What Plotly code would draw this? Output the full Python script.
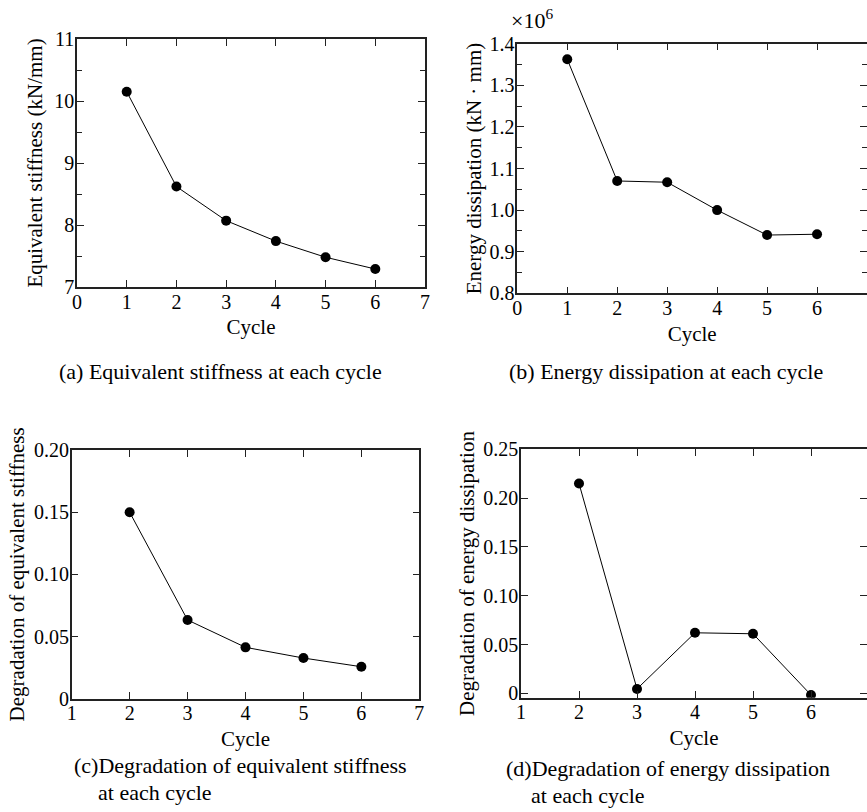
import plotly.graph_objects as go

W, H = 867, 812
FONT = "Liberation Serif"

# ---- data ----
cycles = [1, 2, 3, 4, 5, 6]
equivalent_stiffness = [10.15, 8.62, 8.07, 7.74, 7.48, 7.29]          # kN/mm
energy_dissipation_e6 = [1.3625, 1.070, 1.067, 1.000, 0.940, 0.942]    # x10^6 kN·mm
deg_cycles = [2, 3, 4, 5, 6]
degradation_stiffness = [0.150, 0.0633, 0.0413, 0.0327, 0.0257]
degradation_energy = [0.215, 0.0045, 0.062, 0.061, -0.0017]

xticks_ab = [0, 1, 2, 3, 4, 5, 6, 7]
xticks_cd = [1, 2, 3, 4, 5, 6, 7]
yticks_a = [7, 8, 9, 10, 11]
yticks_b = [0.8, 0.9, 1.0, 1.1, 1.2, 1.3, 1.4]
yticklabels_b = ["0.8", "0.9", "1.0", "1.1", "1.2", "1.3", "1.4"]
yticks_c = [0, 0.05, 0.10, 0.15, 0.20]
yticklabels_c = ["0", "0.05", "0.10", "0.15", "0.20"]
yticks_d = [0, 0.05, 0.10, 0.15, 0.20, 0.25]
yticklabels_d = ["0", "0.05", "0.10", "0.15", "0.20", "0.25"]

captions = [
    "(a) Equivalent stiffness at each cycle",
    "(b) Energy dissipation at each cycle",
    "(c)Degradation of equivalent stiffness",
    "(d)Degradation of energy dissipation",
    "at each cycle",
]


def px_x(p):
    return p / W


def px_y(p):
    return 1 - p / H


def axis(domain, rng, tickvals, ticktext=None, title=None, standoff=None, minor=None,
         label_shift=0):
    d = dict(
        domain=domain, range=rng, tickmode="array", tickvals=tickvals,
        showline=True, linecolor="#222", linewidth=1.5, mirror="allticks",
        ticks="inside", ticklen=7, tickwidth=1.2, tickcolor="#222",
        showgrid=False, zeroline=False, automargin=False,
        ticklabelstandoff=label_shift,
        tickfont=dict(family=FONT, size=20, color="black"),
    )
    if ticktext is not None:
        d["ticktext"] = ticktext
    if title is not None:
        d["title"] = dict(text=title, font=dict(family=FONT, size=21, color="black"))
        if standoff is not None:
            d["title"]["standoff"] = standoff
    if minor is not None:
        d["minor"] = dict(ticks="inside", ticklen=5, tickwidth=1.2, tickcolor="#222",
                          dtick=minor, showgrid=False)
    return d


line_style = dict(color="black", width=1)
marker_style = dict(symbol="circle", size=10, color="black")

fig = go.Figure()
fig.add_trace(go.Scatter(x=cycles, y=equivalent_stiffness, mode="lines+markers",
                         line=line_style, marker=marker_style, xaxis="x", yaxis="y"))
fig.add_trace(go.Scatter(x=cycles, y=energy_dissipation_e6, mode="lines+markers",
                         line=line_style, marker=marker_style, xaxis="x2", yaxis="y2"))
fig.add_trace(go.Scatter(x=deg_cycles, y=degradation_stiffness, mode="lines+markers",
                         line=line_style, marker=marker_style, xaxis="x3", yaxis="y3"))
fig.add_trace(go.Scatter(x=deg_cycles, y=degradation_energy, mode="lines+markers",
                         line=line_style, marker=marker_style, xaxis="x4", yaxis="y4"))

layout = dict(
    width=W, height=H, margin=dict(l=0, r=0, t=0, b=0, autoexpand=False),
    paper_bgcolor="white", plot_bgcolor="white", showlegend=False,
    font=dict(family=FONT, color="black"),
)
XS, YS = -4, -3
layout["xaxis"] = axis([px_x(77), px_x(425)], [0, 7], xticks_ab, title="Cycle", standoff=8,
                       label_shift=XS)
layout["yaxis"] = axis([px_y(287), px_y(39)], [7, 11], yticks_a,
                       title="Equivalent stiffness (kN/mm)", standoff=6, minor=0.5,
                       label_shift=YS)
layout["xaxis2"] = axis([px_x(517.3), 1.0], [0, 7], xticks_ab, title="Cycle", standoff=8,
                        label_shift=XS)
layout["yaxis2"] = axis([px_y(293.3), px_y(43.7)], [0.8, 1.4], yticks_b, yticklabels_b,
                        title="Energy dissipation (kN · mm)", standoff=2, minor=0.05,
                        label_shift=YS)
layout["xaxis3"] = axis([px_x(71.7), px_x(419.3)], [1, 7], xticks_cd, title="Cycle", standoff=8,
                        label_shift=XS)
layout["yaxis3"] = axis([px_y(698.7), px_y(450)], [0, 0.2], yticks_c, yticklabels_c,
                        title="Degradation of equivalent stiffness", standoff=4,
                        label_shift=YS)
layout["xaxis4"] = axis([px_x(521), 1.0], [1, 1 + 346 / 58], xticks_cd, title="Cycle",
                        standoff=8, label_shift=XS)
layout["yaxis4"] = axis([px_y(697.7), px_y(449.3)], [-0.0045, 0.25], yticks_d, yticklabels_d,
                        title="Degradation of energy dissipation", standoff=3,
                        label_shift=YS)
for i in ["", "2", "3", "4"]:
    layout["xaxis" + i]["anchor"] = "y" + i
    layout["yaxis" + i]["anchor"] = "x" + i
fig.update_layout(**layout)

cap_font = dict(family=FONT, size=22, color="black")
ann = [
    dict(text=captions[0], x=px_x(221), y=px_y(371), xanchor="center", yanchor="middle"),
    dict(text=captions[1], x=px_x(666), y=px_y(371), xanchor="center", yanchor="middle"),
    dict(text=captions[2], x=px_x(72), y=px_y(765), xanchor="left", yanchor="middle"),
    dict(text=captions[4], x=px_x(96), y=px_y(792), xanchor="left", yanchor="middle"),
    dict(text=captions[3], x=px_x(504), y=px_y(768), xanchor="left", yanchor="middle"),
    dict(text=captions[4], x=px_x(529), y=px_y(795), xanchor="left", yanchor="middle"),
]
for a in ann:
    a.update(xref="paper", yref="paper", showarrow=False, font=cap_font)
ann.append(dict(text="×10<sup>6</sup>", x=px_x(509), y=px_y(19), xref="paper", yref="paper",
                xanchor="left", yanchor="middle", showarrow=False,
                font=dict(family=FONT, size=22, color="black")))
fig.update_layout(annotations=ann)

fig.write_html(
    "out.html",
    config={"displayModeBar": False},
    post_script="document.body.style.margin='0px';document.body.style.overflow='hidden';",
)
